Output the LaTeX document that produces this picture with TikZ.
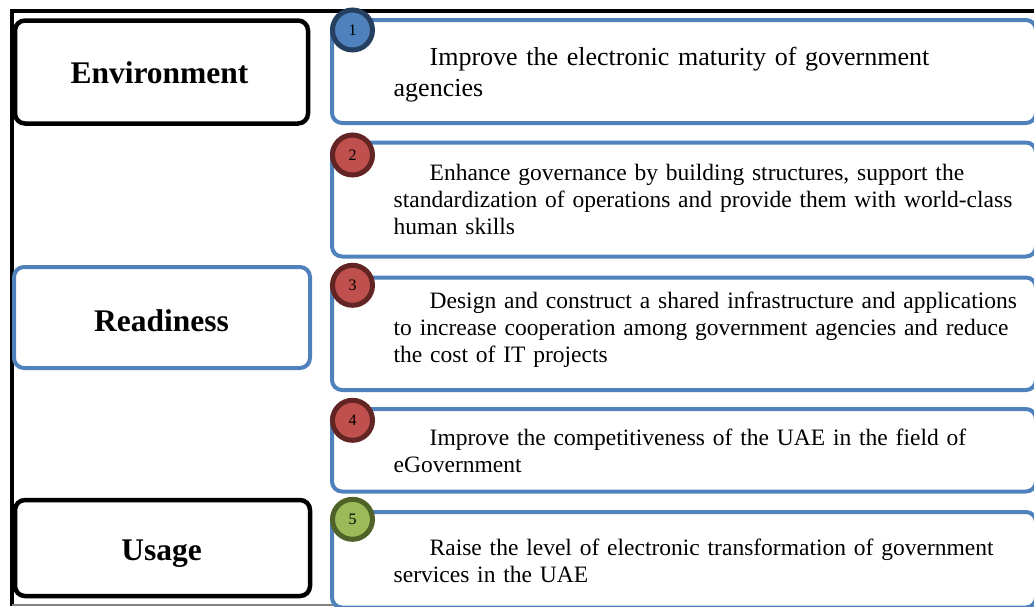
\documentclass[tikz,border=0pt]{standalone}
\usepackage{fontspec}
\setmainfont{Liberation Serif}
\definecolor{accblue}{HTML}{4F81BD}
\definecolor{navyedge}{HTML}{243F60}
\definecolor{accred}{HTML}{C0504D}
\definecolor{rededge}{HTML}{632523}
\definecolor{accgreen}{HTML}{9BBB59}
\definecolor{greenedge}{HTML}{4F6228}
\tikzset{
  framebox/.style={draw=black, line width=4.5pt, rounded corners=10pt, rectangle, inner sep=0pt},
  readybox/.style={draw=accblue, line width=4pt, rounded corners=10pt, rectangle, inner sep=0pt},
  goalbox/.style={draw=accblue, line width=4pt, rounded corners=10pt, rectangle, inner sep=0pt, fill=white},
  headtext/.style={anchor=base, inner sep=0pt, font=\bfseries\fontsize{31.5}{36}\selectfont},
  goaltext/.style={anchor=base west, inner sep=0pt, text width=640pt, align=left},
  bodysmall/.style={font=\fontsize{23.5}{27.2}\selectfont},
  numcirc/.style={circle, line width=5pt, minimum size=40pt, inner sep=0pt, font=\fontsize{16}{18}\selectfont}
}
\begin{document}
\begin{tikzpicture}[x=1pt,y=-1pt]
\useasboundingbox (0,0) rectangle (1034,606);
\clip (0,0) rectangle (1034,606);
% outer frame
\draw[line width=4pt, black] (1040,11) -- (12.3,11) -- (12.3,606);
\draw[line width=1.5pt, gray] (12,604.8) -- (1040,604.8);
% left category boxes
\node[framebox, minimum width=293pt, minimum height=103pt] (env) at (161.5,72) {};
\node[readybox, minimum width=296pt, minimum height=101pt] (rdy) at (162,317.5) {};
\node[framebox, minimum width=295pt, minimum height=96pt] (usg) at (162.5,548) {};
\node[headtext] (envt) at (159.5,83.3) {Environment};
\node[headtext] (rdyt) at (161.5,331) {Readiness};
\node[headtext] (usgt) at (161.7,560) {Usage};
% goal boxes
\node[goalbox, minimum width=704pt, minimum height=103pt] (g1) at (684,71.5) {};
\node[goalbox, minimum width=704pt, minimum height=114pt] (g2) at (684,199.5) {};
\node[goalbox, minimum width=704pt, minimum height=112.5pt] (g3) at (684,333.75) {};
\node[goalbox, minimum width=704pt, minimum height=82.5pt] (g4) at (684,450.25) {};
\node[goalbox, minimum width=704pt, minimum height=95.5pt] (g5) at (684,559.75) {};
% goal texts
\node[goaltext, font=\fontsize{26}{31.7}\selectfont] (t1) at (393.5,65)
  {\hspace*{36pt}Improve the electronic maturity of government\\agencies};
\node[goaltext, bodysmall] (t2) at (393.5,180.5)
  {\hspace*{36pt}Enhance governance by building structures, support the\\standardization of operations and provide them with world-class\\human skills};
\node[goaltext, bodysmall] (t3) at (393.5,308.5)
  {\hspace*{36pt}Design and construct a shared infrastructure and applications\\to increase cooperation among government agencies and reduce\\the cost of IT projects};
\node[goaltext, bodysmall] (t4) at (393.5,445)
  {\hspace*{36pt}Improve the competitiveness of the UAE in the field of\\eGovernment};
\node[goaltext, bodysmall] (t5) at (393.5,555)
  {\hspace*{36pt}Raise the level of electronic transformation of government\\services in the UAE};
% number circles
\node[numcirc, fill=accblue, draw=navyedge] (c1) at (352.5,30) {1};
\node[numcirc, fill=accred, draw=rededge] (c2) at (352.5,155) {2};
\node[numcirc, fill=accred, draw=rededge] (c3) at (352.5,285.3) {3};
\node[numcirc, fill=accred, draw=rededge] (c4) at (352.5,420.3) {4};
\node[numcirc, fill=accgreen, draw=greenedge] (c5) at (352.5,519.3) {5};
\end{tikzpicture}
\end{document}
